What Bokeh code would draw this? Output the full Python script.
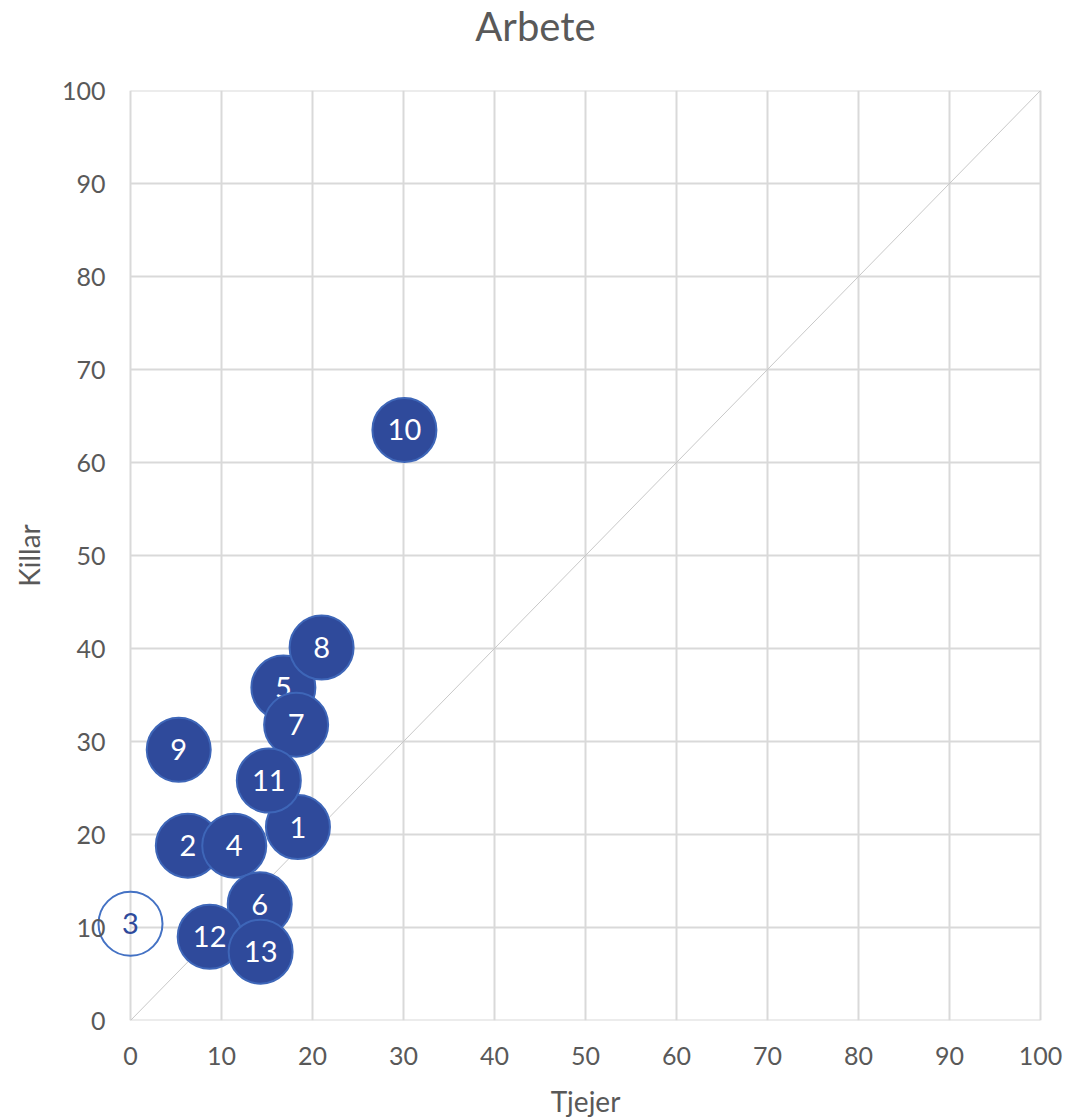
from bokeh.plotting import figure
from bokeh.models import ColumnDataSource, Range1d, FixedTicker, CDSView, IndexFilter, Label
from bokeh.core.properties import value
from bokeh.embed import file_html
from bokeh.resources import INLINE

title = "Arbete"
labels = ["1", "2", "3", "4", "5", "6", "7", "8", "9", "10", "11", "12", "13"]
tjejer = [18.4, 6.3, 0.0, 11.4, 16.8, 14.2, 18.2, 21.0, 5.3, 30.1, 15.2, 8.7, 14.3]
killar = [20.8, 18.8, 10.4, 18.8, 35.8, 12.5, 31.8, 40.1, 29.1, 63.5, 25.8, 9.0, 7.4]
hollow = [False, False, True, False, False, False, False, False, False, False, False, False, False]
diag_x = [0, 100]
diag_y = [0, 100]
ticks = [0, 10, 20, 30, 40, 50, 60, 70, 80, 90, 100]

FILL = "#2F4A9B"
EDGE = "#4472C4"
RIM = "#3E66B8"
GREY = "#595959"
FONT = "Lato"

PX = 9.1          # pixels per x unit
PY = 9.3          # pixels per y unit
PAD = 36          # frame pixels beyond x = 0 and x = 100

fills = [None if h else FILL for h in hollow]
lcols = [EDGE if h else RIM for h in hollow]
tcols = [FILL if h else "white" for h in hollow]
src = ColumnDataSource(dict(x=tjejer, y=killar, t=labels, fc=fills, lc=lcols, tc=tcols))

p = figure(output_backend="svg", toolbar_location=None,
           frame_width=round(100 * PX) + 2 * PAD, frame_height=round(100 * PY),
           min_border_left=94, min_border_right=8,
           min_border_top=90, min_border_bottom=90,
           x_range=Range1d(-PAD / PX, 100 + PAD / PX), y_range=Range1d(0, 100))
p.outline_line_color = None
p.background_fill_color = "white"
p.border_fill_color = "white"

# chart title, placed in the top panel so that it is not clipped by the frame
p.add_layout(Label(x=(535 - 130) / PX, y=(1020 - 25) / PY, text=title,
                   text_align="center", text_baseline="middle",
                   text_font=FONT, text_font_size="40px", text_color=GREY), "above")

for ax in (p.xaxis[0], p.yaxis[0]):
    ax.ticker = FixedTicker(ticks=ticks)
    ax.axis_line_color = None
    ax.major_tick_line_color = None
    ax.minor_tick_line_color = None
    ax.major_tick_out = 0
    ax.major_tick_in = 0
    ax.major_label_text_font = FONT
    ax.major_label_text_font_size = "25px"
    ax.major_label_text_color = GREY
    ax.axis_label_text_font = FONT
    ax.axis_label_text_font_size = "28px"
    ax.axis_label_text_font_style = "normal"
    ax.axis_label_text_color = GREY

xa = p.xaxis[0]
xa.axis_label = "Tjejer"
xa.major_label_standoff = 26
xa.axis_label_standoff = 16

ya = p.yaxis[0]
ya.axis_label = "Killar"
ya.major_label_orientation = "horizontal"
ya.major_label_standoff = -11
ya.axis_label_standoff = 13

# grid: vertical lines from the grid, horizontal lines limited to 0..100
p.xgrid[0].ticker = FixedTicker(ticks=ticks)
p.xgrid[0].grid_line_color = "#D9D9D9"
p.xgrid[0].grid_line_width = 2
p.ygrid.visible = False
p.segment(x0=[0] * len(ticks), y0=ticks, x1=[100] * len(ticks), y1=ticks,
          line_color="#D9D9D9", line_width=2)

p.line(diag_x, diag_y, line_color="#C8C8C8", line_width=1)

for i in range(len(labels)):
    view = CDSView(filter=IndexFilter([i]))
    p.scatter("x", "y", source=src, view=view, size=64, fill_color="fc",
              line_color="lc", line_width=2)
    p.text("x", "y", text="t", source=src, view=view, text_color="tc",
           text_font=value(FONT), text_font_size="29px",
           text_align="center", text_baseline="middle")

open("out.html", "w").write(file_html(p, INLINE))
